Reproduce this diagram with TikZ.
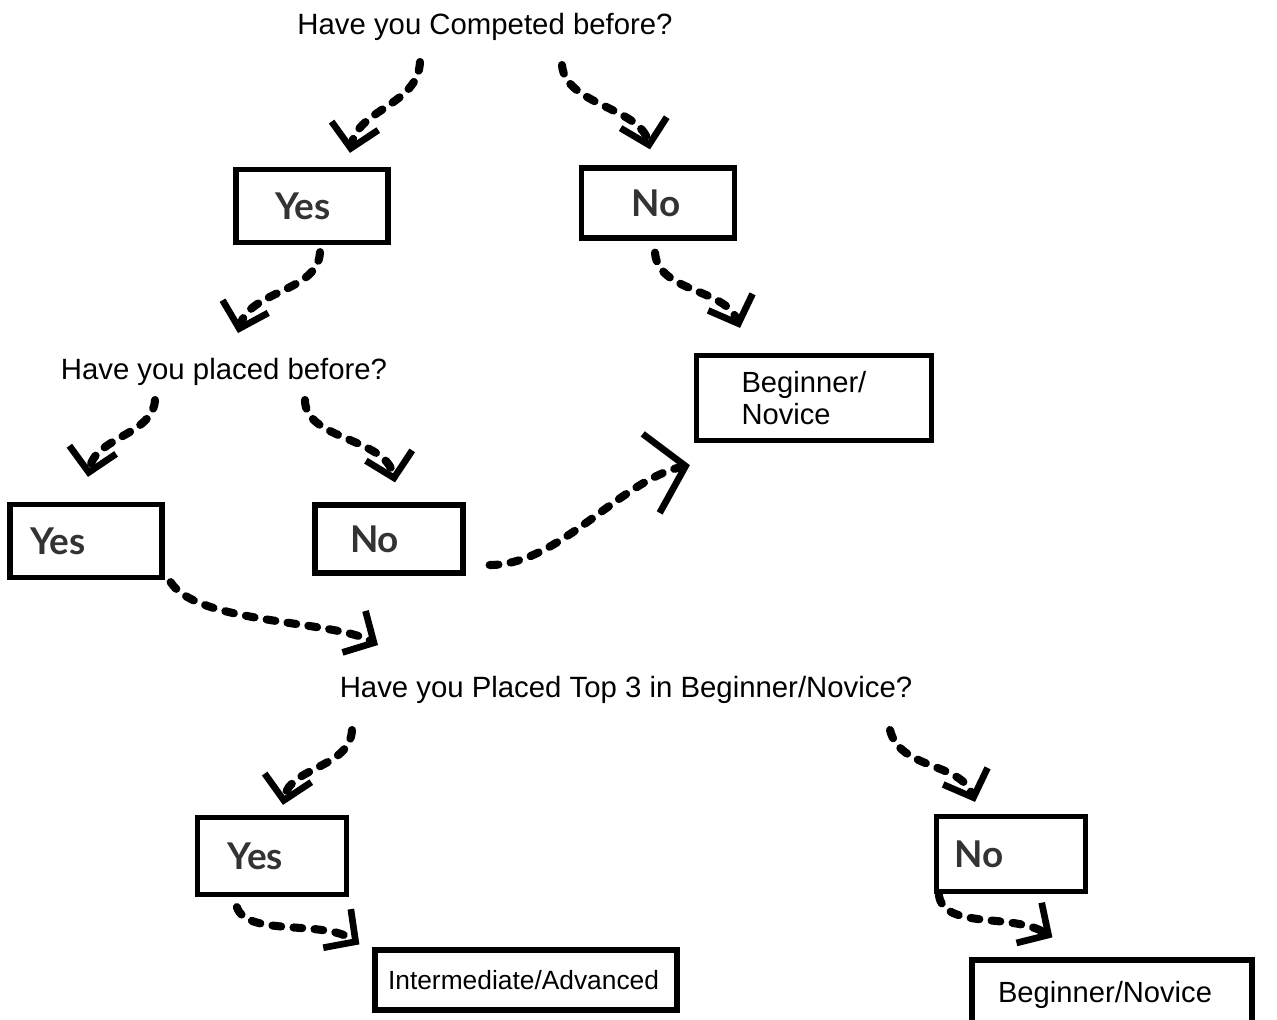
\documentclass[tikz,border=0pt]{standalone}
\usepackage{fontspec}
\setmainfont{Liberation Sans}
\newfontfamily\answerfont{Lato}
\usetikzlibrary{arrows.meta}

\begin{document}
\begin{tikzpicture}[x=0.02cm,y=-0.02cm,
  question/.style={inner sep=0pt,font=\fontsize{16.7}{20}\selectfont},
  choice/.style 2 args={draw,line width=3pt,align=left,inner ysep=0pt,
    inner xsep=#2,text width=#1,text=black!80,
    font=\answerfont\bfseries\fontsize{21}{25}\selectfont},
  result/.style 2 args={draw,line width=3pt,align=left,inner ysep=0pt,
    inner xsep=#2,text width=#1,font=\fontsize{16.6}{18}\selectfont},
  stream/.style={line width=4.6pt,line cap=round,dash pattern=on 5pt off 7pt,
    -{Straight Barb[length=13pt,width=27pt,line width=3.8pt]}},
  bigstream/.style={stream,-{Straight Barb[length=20pt,width=46pt,line width=3.8pt]}}]
    \useasboundingbox (0,0) rectangle (1277,1019);
    %first question
    \node[question] (q1) at (485,27) {Have you Competed before?};
    \node[choice={1.48cm}{0.78cm},minimum height=1.46cm] (yes1) at (312,206) {Yes};
    \node[choice={1.06cm}{1.0cm},minimum height=1.4cm] (no1) at (658,203) {No};
    %second question
    \node[question] (q2) at (224,372) {Have you placed before?};
    \node[result={2.9cm}{0.9cm},minimum height=1.7cm] (bn1) at (814,398) {Beginner/\\Novice};
    \node[choice={2.24cm}{0.4cm},minimum height=1.46cm] (yes2) at (86,541) {Yes};
    \node[choice={1.56cm}{0.7cm},minimum height=1.36cm] (no2) at (389,539) {No};
    %third question
    \node[question] (q3) at (626,690) {Have you Placed Top 3 in Beginner/Novice?};
    \node[choice={1.78cm}{0.6cm},minimum height=1.54cm] (yes3) at (272,856) {Yes};
    \node[choice={2.26cm}{0.36cm},minimum height=1.5cm] (no3) at (1011,854) {No};
    \node[result={5.52cm}{0.26cm},minimum height=1.2cm,font=\fontsize{15}{18}\selectfont] (ia) at (526,980) {Intermediate/Advanced};
    \node[result={4.56cm}{0.52cm},minimum height=1.4cm] (bn2) at (1112,995) {Beginner/Novice};
    %arrows
    \draw[stream] ([shift={(-65,35)}]q1.center) .. controls +(-2,43) and +(8,-44) .. ([shift={(38,-14)}]yes1.north);
    \draw[stream] ([shift={(77,38)}]q1.center) .. controls +(3,40) and +(-10,-42) .. ([shift={(-8,-16)}]no1.north);
    \draw[stream] ([shift={(8,7)}]yes1.south) .. controls +(-2,40) and +(12,-43) .. ([shift={(14,-39)}]q2.center);
    \draw[stream] ([shift={(-3,12)}]no1.south) .. controls +(3,40) and +(-15,-40) .. ([shift={(-74,-25)}]bn1.north);
    \draw[stream] ([shift={(-69,28)}]q2.center) .. controls +(-2,35) and +(7,-40) .. ([shift={(2,-25)}]yes2.north);
    \draw[stream] ([shift={(81,28)}]q2.center) .. controls +(0,40) and +(-10,-45) .. ([shift={(6,-20)}]no2.north);
    \draw[bigstream] ([shift={(24,26)}]no2.east) .. controls +(70,0) and +(-70,15) .. ([shift={(-4,22)}]bn1.south west);
    \draw[stream] ([shift={(6,2)}]yes2.south east) .. controls +(27,42) and +(-45,-25) .. ([shift={(-248,-45)}]q3.center);
    \draw[stream] ([shift={(-274,40)}]q3.center) .. controls +(-2,38) and +(7,-38) .. ([shift={(11,-10)}]yes3.north);
    \draw[stream] ([shift={(264,40)}]q3.center) .. controls +(10,40) and +(-15,-40) .. ([shift={(-36,-12)}]no3.north);
    \draw[stream] ([shift={(42,10)}]yes3.south west) .. controls +(10,30) and +(-35,-25) .. ([shift={(-13,-3)}]ia.north west);
    \draw[stream] ([shift={(5,1)}]no3.south west) .. controls +(5,35) and +(-40,-25) .. ([shift={(83,-20)}]bn2.north west);
  \end{tikzpicture}
\end{document}
